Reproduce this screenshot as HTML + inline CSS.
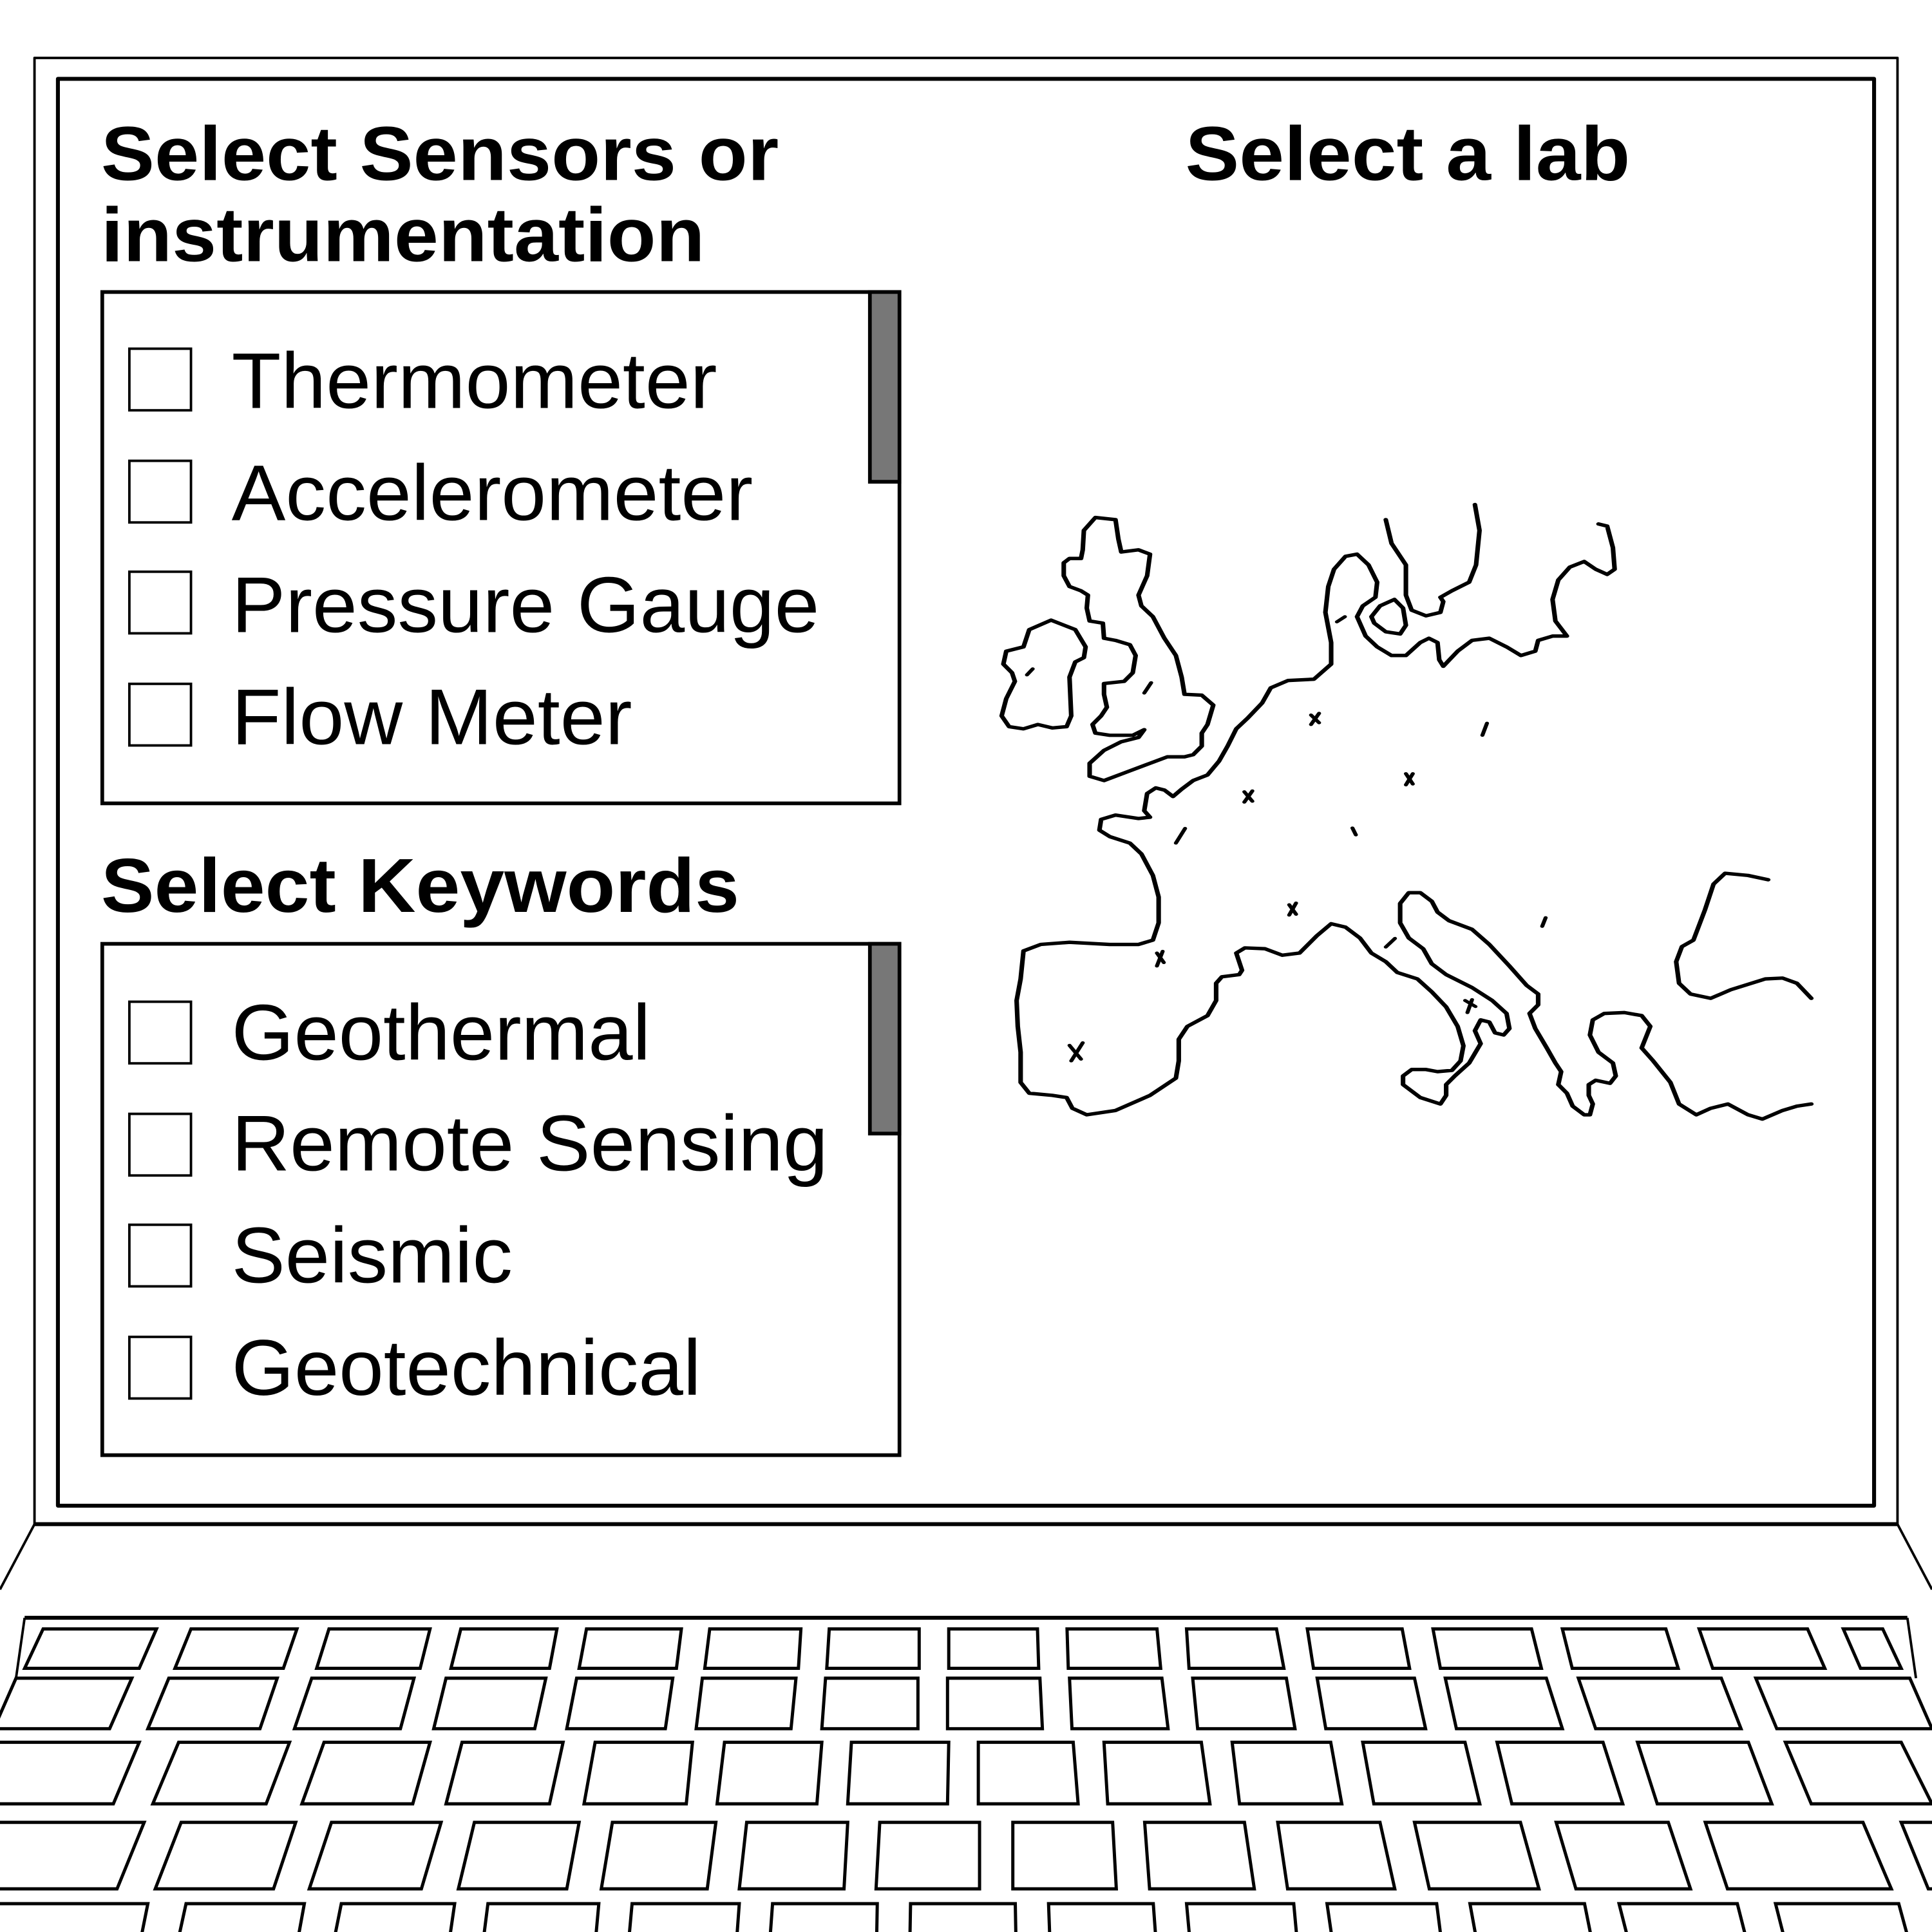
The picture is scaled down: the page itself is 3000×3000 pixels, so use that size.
<!DOCTYPE html>
<html><head><meta charset="utf-8"><style>html,body{margin:0;padding:0;background:#fff}svg{display:block}</style></head><body>
<svg width="3000" height="3000" viewBox="0 0 1568 1568" xmlns="http://www.w3.org/2000/svg">
<rect width="1568" height="1568" fill="#fff"/>
<g fill="none" stroke="#000" stroke-linejoin="round">
<rect x="28" y="47" width="1512" height="1190" stroke-width="2"/>
<rect x="47" y="64" width="1474" height="1158" stroke-width="3.2"/>
<line x1="28" y1="1237" x2="1540" y2="1237" stroke-width="3.2"/>
<line x1="28" y1="1237" x2="0" y2="1290" stroke-width="2"/>
<line x1="1540" y1="1237" x2="1568" y2="1290" stroke-width="2"/>
<line x1="20" y1="1313" x2="1548" y2="1313" stroke-width="3.2"/>
<line x1="20" y1="1313" x2="13" y2="1362" stroke-width="2"/>
<line x1="1548" y1="1313" x2="1555" y2="1362" stroke-width="2"/>
</g>
<g fill="none" stroke="#000" stroke-width="2.6" stroke-linejoin="miter">
<polygon points="35,1322 127,1322 113,1354 20,1354"/>
<polygon points="155,1322 241,1322 230,1354 142,1354"/>
<polygon points="267,1322 349,1322 341,1354 257,1354"/>
<polygon points="374,1322 452,1322 446,1354 366,1354"/>
<polygon points="476,1322 553,1322 549,1354 470,1354"/>
<polygon points="576,1322 650,1322 648,1354 572,1354"/>
<polygon points="673,1322 746,1322 746,1354 671,1354"/>
<polygon points="770,1322 842,1322 843,1354 770,1354"/>
<polygon points="866,1322 939,1322 942,1354 867,1354"/>
<polygon points="963,1322 1036,1322 1042,1354 965,1354"/>
<polygon points="1061,1322 1138,1322 1144,1354 1066,1354"/>
<polygon points="1163,1322 1243,1322 1251,1354 1169,1354"/>
<polygon points="1268,1322 1352,1322 1362,1354 1276,1354"/>
<polygon points="1379,1322 1467,1322 1481,1354 1390,1354"/>
<polygon points="1496,1322 1528,1322 1543,1354 1510,1354"/>
<polygon points="13,1362 107,1362 89,1403 -5,1403"/>
<polygon points="137,1362 225,1362 211,1403 120,1403"/>
<polygon points="253,1362 336,1362 325,1403 239,1403"/>
<polygon points="362,1362 443,1362 434,1403 352,1403"/>
<polygon points="468,1362 546,1362 540,1403 460,1403"/>
<polygon points="570,1362 646,1362 642,1403 565,1403"/>
<polygon points="670,1362 745,1362 745,1403 667,1403"/>
<polygon points="769,1362 844,1362 846,1403 769,1403"/>
<polygon points="868,1362 943,1362 948,1403 870,1403"/>
<polygon points="968,1362 1044,1362 1051,1403 972,1403"/>
<polygon points="1069,1362 1148,1362 1157,1403 1076,1403"/>
<polygon points="1173,1362 1255,1362 1268,1403 1182,1403"/>
<polygon points="1281,1362 1397,1362 1413,1403 1295,1403"/>
<polygon points="1425,1362 1550,1362 1568,1403 1442,1403"/>
<polygon points="-5,1414 113,1414 92,1464 -5,1464"/>
<polygon points="145,1414 235,1414 216,1464 124,1464"/>
<polygon points="263,1414 349,1414 335,1464 245,1464"/>
<polygon points="375,1414 457,1414 446,1464 362,1464"/>
<polygon points="483,1414 562,1414 557,1464 474,1464"/>
<polygon points="588,1414 667,1414 663,1464 582,1464"/>
<polygon points="691,1414 770,1414 769,1464 688,1464"/>
<polygon points="794,1414 871,1414 875,1464 794,1464"/>
<polygon points="896,1414 975,1414 982,1464 899,1464"/>
<polygon points="1000,1414 1080,1414 1089,1464 1006,1464"/>
<polygon points="1106,1414 1189,1414 1201,1464 1115,1464"/>
<polygon points="1215,1414 1301,1414 1317,1464 1227,1464"/>
<polygon points="1329,1414 1419,1414 1438,1464 1345,1464"/>
<polygon points="1449,1414 1543,1414 1568,1464 1470,1464"/>
<polygon points="-5,1479 117,1479 95,1533 -5,1533"/>
<polygon points="147,1479 240,1479 222,1533 126,1533"/>
<polygon points="269,1479 358,1479 342,1533 251,1533"/>
<polygon points="385,1479 470,1479 460,1533 372,1533"/>
<polygon points="497,1479 581,1479 574,1533 488,1533"/>
<polygon points="606,1479 688,1479 685,1533 600,1533"/>
<polygon points="714,1479 795,1479 795,1533 711,1533"/>
<polygon points="822,1479 903,1479 906,1533 822,1533"/>
<polygon points="929,1479 1010,1479 1018,1533 933,1533"/>
<polygon points="1037,1479 1120,1479 1132,1533 1045,1533"/>
<polygon points="1148,1479 1234,1479 1249,1533 1160,1533"/>
<polygon points="1263,1479 1354,1479 1372,1533 1279,1533"/>
<polygon points="1384,1479 1512,1479 1535,1533 1402,1533"/>
<polygon points="1543,1479 1580,1479 1580,1533 1565,1533"/>
<polygon points="-5,1545 120,1545 109,1600 -5,1600"/>
<polygon points="151,1545 247,1545 237,1600 139,1600"/>
<polygon points="277,1545 369,1545 361,1600 266,1600"/>
<polygon points="396,1545 486,1545 481,1600 389,1600"/>
<polygon points="513,1545 600,1545 596,1600 508,1600"/>
<polygon points="627,1545 712,1545 711,1600 623,1600"/>
<polygon points="739,1545 824,1545 825,1600 738,1600"/>
<polygon points="851,1545 936,1545 940,1600 853,1600"/>
<polygon points="963,1545 1050,1545 1055,1600 968,1600"/>
<polygon points="1077,1545 1166,1545 1173,1600 1085,1600"/>
<polygon points="1193,1545 1286,1545 1297,1600 1203,1600"/>
<polygon points="1314,1545 1410,1545 1424,1600 1328,1600"/>
<polygon points="1441,1545 1541,1545 1556,1600 1455,1600"/>
</g>
<g font-family="'Liberation Sans', sans-serif" fill="#000">
<text x="82" y="146" font-size="62" font-weight="bold" textLength="550" lengthAdjust="spacingAndGlyphs">Select Sensors or</text>
<text x="82" y="212" font-size="62" font-weight="bold" textLength="490" lengthAdjust="spacingAndGlyphs">instrumentation</text>
<text x="962" y="146" font-size="62" font-weight="bold" textLength="361" lengthAdjust="spacingAndGlyphs">Select a lab</text>
<text x="82" y="740" font-size="62" font-weight="bold" textLength="518" lengthAdjust="spacingAndGlyphs">Select Keywords</text>
<text x="188" y="331" font-size="64" textLength="394" lengthAdjust="spacingAndGlyphs">Thermometer</text>
<text x="188" y="422" font-size="64" textLength="423" lengthAdjust="spacingAndGlyphs">Accelerometer</text>
<text x="188" y="513" font-size="64" textLength="477" lengthAdjust="spacingAndGlyphs">Pressure Gauge</text>
<text x="188" y="604" font-size="64" textLength="325" lengthAdjust="spacingAndGlyphs">Flow Meter</text>
<text x="188" y="860" font-size="64" textLength="340" lengthAdjust="spacingAndGlyphs">Geothermal</text>
<text x="188" y="950" font-size="64" textLength="484" lengthAdjust="spacingAndGlyphs">Remote Sensing</text>
<text x="188" y="1041" font-size="64" textLength="228" lengthAdjust="spacingAndGlyphs">Seismic</text>
<text x="188" y="1132" font-size="64" textLength="381" lengthAdjust="spacingAndGlyphs">Geotechnical</text>
</g>
<g stroke="#000" stroke-width="3">
<rect x="83" y="237" width="647" height="415" fill="none"/>
<rect x="706" y="237" width="24" height="154" fill="#777"/>
<rect x="83" y="766" width="647" height="415" fill="none"/>
<rect x="706" y="766" width="24" height="154" fill="#777"/>
</g>
<g fill="none" stroke="#000" stroke-width="2">
<rect x="105" y="283" width="50" height="50"/>
<rect x="105" y="374" width="50" height="50"/>
<rect x="105" y="464" width="50" height="50"/>
<rect x="105" y="555" width="50" height="50"/>
<rect x="105" y="813" width="50" height="50"/>
<rect x="105" y="904" width="50" height="50"/>
<rect x="105" y="994" width="50" height="50"/>
<rect x="105" y="1085" width="50" height="50"/>
</g>
<g transform="translate(784,392) scale(0.4667,0.35)" fill="none" stroke="#000" stroke-width="8" stroke-linejoin="round" stroke-linecap="round">
<polygon points="148,318 190,340 208,380 205,405 190,415 180,450 183,540 175,565 150,568 125,560 100,570 75,565 62,540 70,500 85,460 80,440 65,420 70,390 100,380 110,340"/>
<polygon points="225,80 260,85 265,130 270,160 300,155 320,165 315,215 300,260 305,285 325,310 345,360 365,400 375,450 380,490 410,492 430,515 420,560 410,580 410,610 395,630 380,635 350,635 320,650 280,670 240,690 215,680 215,650 240,620 270,600 300,590 310,572 290,585 250,585 225,580 220,560 235,540 245,520 240,490 240,465 275,460 290,440 295,400 285,375 260,365 240,360 238,325 215,320 210,290 212,260 200,250 180,240 170,215 170,185 180,175 200,175 203,155 205,110"/>
<polyline points="730,85 740,140 765,190 765,260 775,295 800,308 825,300 830,275 825,265 845,250 875,230 887,190 893,110 885,50"/>
<polygon points="705,310 720,285 745,270 760,290 765,330 755,350 730,345 710,325"/>
<polyline points="1100,95 1115,100 1125,150 1128,200 1115,212 1095,200 1075,182 1050,195 1030,225 1020,270 1025,320 1045,355 1020,355 995,365 990,390 965,400 940,380 910,360 880,365 855,390 830,425 823,410 820,370 805,360 790,370 765,400 740,400 715,380 695,355 680,310 690,285 712,265 715,230 700,190 680,165 660,170 640,200 630,240 625,300 635,370 635,420 605,455 560,458 530,475 515,510 490,545 470,570 455,610 440,645 420,677 395,690 375,710 360,727 345,712 330,707 315,720 310,760 320,775 300,778 260,770 235,780 232,805 250,820 285,835 305,860 325,910 335,960 335,1020 325,1060 300,1070 250,1070 180,1065 130,1070 100,1085 95,1150 88,1200 90,1260 95,1320 95,1390 110,1415 150,1420 175,1425 185,1450 210,1465 260,1455 320,1420 365,1380 370,1340 370,1290 385,1260 420,1235 435,1200 435,1160 445,1145 475,1140 480,1130 470,1090 485,1078 520,1080 550,1095 580,1090 610,1050 635,1022 660,1030 685,1055 705,1090 730,1110 750,1135 785,1150 810,1180 835,1215 855,1260 865,1305 860,1340 845,1362 820,1365 800,1360 775,1360 760,1375 760,1395 790,1425 825,1440 835,1420 835,1395 850,1375 875,1345 895,1300 885,1270 895,1245 910,1250 920,1275 935,1280 945,1265 940,1230 915,1200 880,1170 835,1140 810,1115 795,1080 770,1055 755,1020 755,975 770,950 790,950 810,970 820,995 840,1015 880,1035 910,1070 945,1120 975,1165 995,1185 995,1210 980,1230 990,1265 1010,1310 1025,1345 1035,1365 1030,1395 1045,1415 1055,1445 1075,1465 1085,1465 1090,1440 1083,1420 1083,1395 1095,1385 1120,1392 1130,1375 1125,1345 1100,1320 1085,1280 1090,1245 1110,1230 1145,1228 1175,1235 1190,1260 1175,1310 1195,1340 1225,1390 1240,1440 1270,1465 1295,1450 1325,1440 1360,1465 1385,1475 1420,1455 1445,1445 1470,1440"/>
<polyline points="1395,920 1360,910 1320,905 1300,930 1285,990 1265,1060 1245,1075 1235,1110 1240,1160 1260,1185 1295,1195 1330,1175 1390,1150 1420,1148 1445,1160 1470,1195"/>
<path stroke-width="7" d="M106,445 l10,-14 M316,475 m-6,12 l12,-24 M645,322 l14,-12 M600,560 l14,-26 M600,538 l14,18 M898,585 l8,-28 M765,700 l12,-26 M765,674 l12,24 M484,740 l14,-26 M484,716 l14,22 M365,835 l16,-34 M672,800 l6,16 M562,1002 l12,-28 M562,978 l12,22 M1002,1028 l6,-20 M730,1076 l16,-20 M332,1120 l10,-34 M332,1090 l12,22 M872,1228 l8,-30 M868,1200 l18,14 M183,1340 l20,-42 M180,1304 l20,32"/>
</g>
</svg>
</body></html>
